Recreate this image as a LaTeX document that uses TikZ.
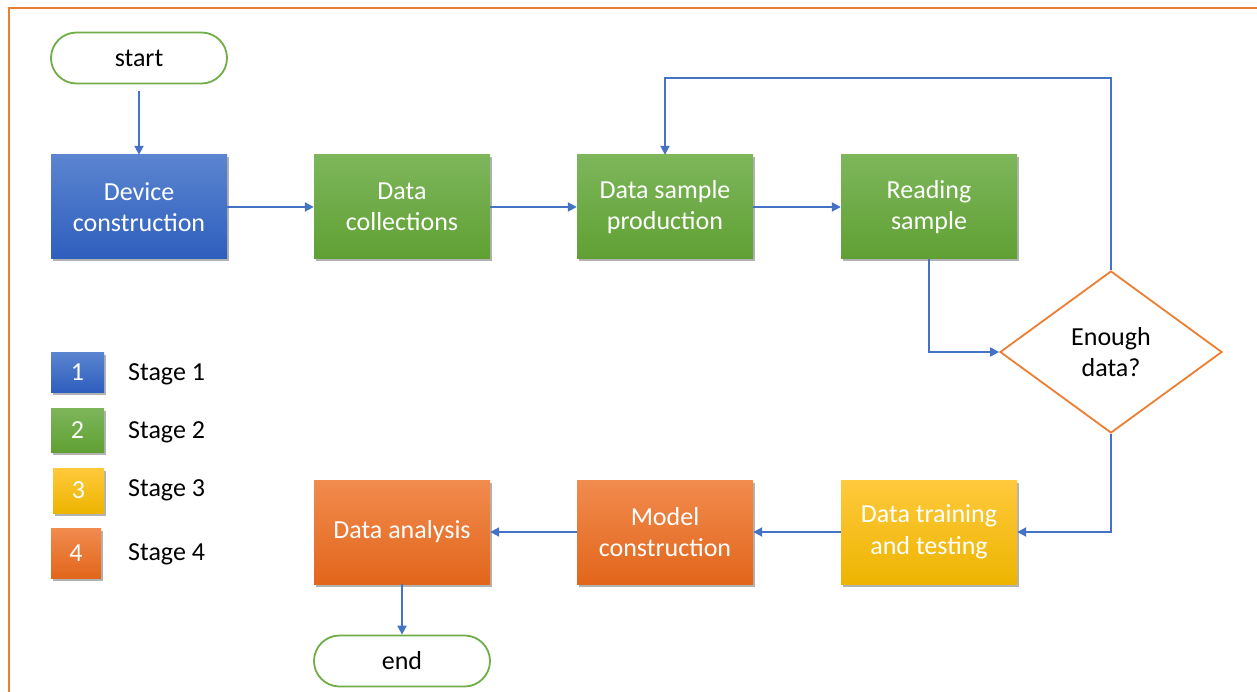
\documentclass[tikz,border=0pt]{standalone}
\usepackage{fontspec}
\setmainfont{Carlito}
\usetikzlibrary{shapes.geometric,shapes.misc,shadows,arrows.meta}
\definecolor{lineblue}{HTML}{4472C4}
\definecolor{frameorange}{HTML}{ED7D31}
\definecolor{termgreen}{HTML}{70AD47}
\definecolor{blueT}{HTML}{5B85D0}
\definecolor{blueB}{HTML}{2E5EBE}
\definecolor{greenT}{HTML}{7DB65B}
\definecolor{greenB}{HTML}{60A033}
\definecolor{yellowT}{HTML}{FFC93C}
\definecolor{yellowB}{HTML}{EDB500}
\definecolor{orangeT}{HTML}{F18B4E}
\definecolor{orangeB}{HTML}{E2661B}
\begin{document}
\begin{tikzpicture}[x=1pt,y=-1pt,
  txt/.style={font=\fontsize{26}{31.5}\selectfont},
  shad/.style={drop shadow={shadow xshift=1.5pt,shadow yshift=-2.5pt,opacity=0.3,fill=black}},
  box/.style={txt,shad,minimum width=176pt,minimum height=104pt,inner sep=0pt,align=center,text=white},
  sblue/.style={top color=blueT,bottom color=blueB},
  sgreen/.style={top color=greenT,bottom color=greenB},
  syellow/.style={top color=yellowT,bottom color=yellowB},
  sorange/.style={top color=orangeT,bottom color=orangeB},
  term/.style={txt,rounded rectangle,draw=termgreen,line width=1.8pt,fill=white,minimum width=176pt,minimum height=51pt,inner sep=0pt},
  legbox/.style={txt,shad,inner sep=0pt,text=white},
  conn/.style={draw=lineblue,line width=2pt,-{Triangle[length=9pt,width=9pt]}},
  frameline/.style={draw=frameorange,line width=2pt}
]
\useasboundingbox (0,0) rectangle (1257,692);
\draw[frameline] (9,700) -- (9,8) -- (1265,8);

% nodes
\node[term] (start) at (139,58) {start};
\node[box,sblue] (dev) at (139,207) {Device\\construction};
\node[box,sgreen] (coll) at (402,207) {Data\\collections};
\node[box,sgreen] (prod) at (665,207) {Data sample\\production};
\node[box,sgreen] (read) at (929,207) {Reading\\sample};
\node[txt,diamond,draw=frameorange,line width=1.8pt,fill=white,minimum width=222pt,minimum height=162pt,inner sep=0pt,align=center] (dec) at (1111,352) {Enough\\data?};
\node[box,syellow] (train) at (929,532) {Data training\\and testing};
\node[box,sorange] (model) at (665,532) {Model\\construction};
\node[box,sorange] (ana) at (402,532) {\raisebox{-2pt}{Data analysis}};
\node[term] (end) at (402,661) {end};

% legend
\node[legbox,sblue,minimum width=53pt,minimum height=40pt] (l1) at (77.5,372) {1};
\node[legbox,sgreen,minimum width=53pt,minimum height=44pt] (l2) at (77.5,430) {2};
\node[legbox,syellow,minimum width=51pt,minimum height=45pt] (l3) at (78.5,490.5) {3};
\node[legbox,sorange,minimum width=50pt,minimum height=50pt] (l4) at (76,553) {4};
\node[txt,anchor=west,inner sep=0pt] (t1) at (128,374) {Stage 1};
\node[txt,anchor=west,inner sep=0pt] (t2) at (128,432) {Stage 2};
\node[txt,anchor=west,inner sep=0pt] (t3) at (128,490) {Stage 3};
\node[txt,anchor=west,inner sep=0pt] (t4) at (128,554) {Stage 4};

% connectors
\draw[conn,shorten <=7pt] (start.south) -- (dev.north);
\draw[conn] (dev) -- (coll);
\draw[conn] (coll) -- (prod);
\draw[conn] (prod) -- (read);
\draw[conn] (read.south) |- (dec.west);
\coordinate (loop) at (665,78);
\draw[conn] (dec.north) |- (loop) -- (prod.north);
\draw[conn] (dec.south) |- (train.east);
\draw[conn] (train) -- (model);
\draw[conn] (model) -- (ana);
\draw[conn] (ana) -- (end);
\end{tikzpicture}
\end{document}
